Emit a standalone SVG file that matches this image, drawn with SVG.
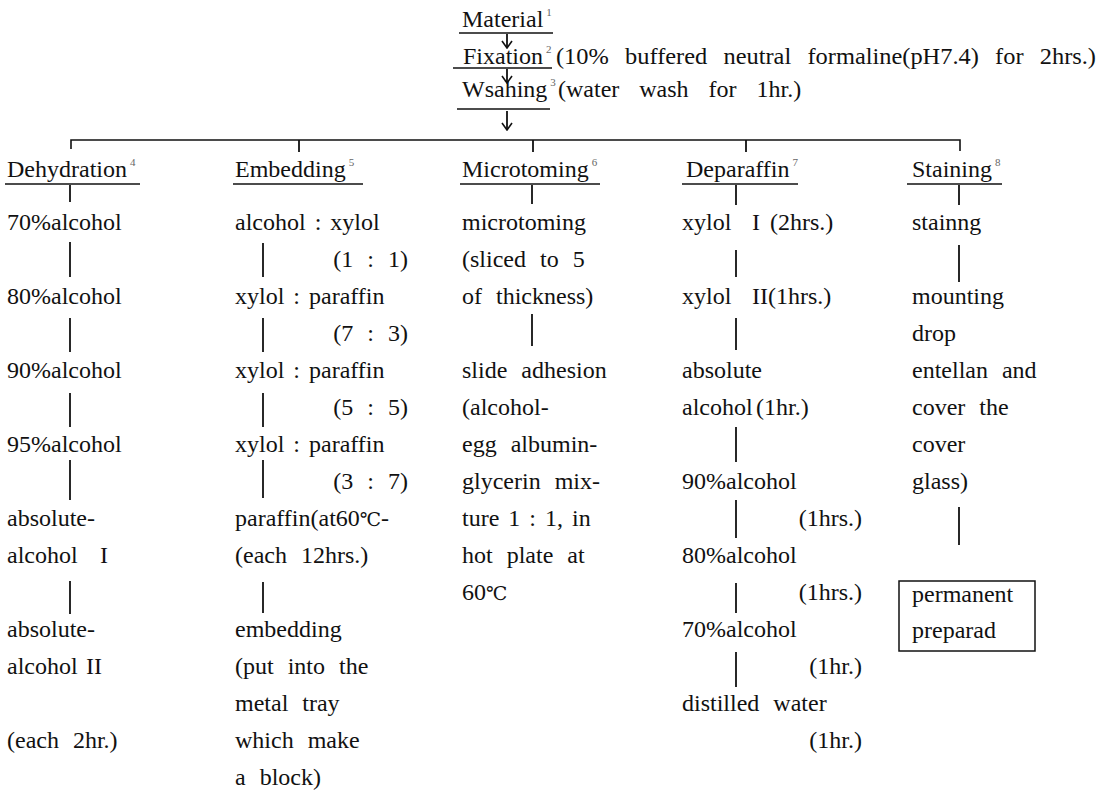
<svg xmlns="http://www.w3.org/2000/svg" width="1104" height="790" viewBox="0 0 1104 790">
<defs>
<style>
.t{font-family:'Liberation Serif',serif;font-size:24px;fill:#111;word-spacing:8px}
.c{word-spacing:3px}
.e{text-anchor:end}
.s{font-size:11px;fill:#666}
.dg{font-family:'DejaVu Serif',serif;font-size:19px}
.ln{stroke:#111;stroke-width:1.8;fill:none}
.ul{stroke:#111;stroke-width:1.5;fill:none}
.hz{stroke:#111;stroke-width:1.6;fill:none}
.box{stroke:#111;stroke-width:1.5;fill:none}
</style>
<marker id="chev" viewBox="0 0 9 12" refX="8" refY="6" markerWidth="9" markerHeight="12" markerUnits="userSpaceOnUse" orient="auto">
<path d="M1,1 L8,6 L1,11" fill="none" stroke="#111" stroke-width="1.6"/>
</marker>
</defs>
<rect width="1104" height="790" fill="#fff"/>

<g id="material">
<text class="t" x="462" y="27">Material<tspan class="s" dx="3" dy="-11">1</tspan></text>
<line class="ul" x1="459" y1="33" x2="553" y2="33"/>
</g>
<g id="fixation">
<text class="t" x="463" y="64">Fixation<tspan class="s" dx="3" dy="-11">2</tspan></text>
<text class="t" x="556" y="64" textLength="540" lengthAdjust="spacingAndGlyphs" style="word-spacing:10px">(10% buffered neutral formaline(pH7.4) for 2hrs.)</text>
<line class="ul" x1="453" y1="68" x2="552" y2="68"/>
</g>
<g id="washing">
<text class="t" x="462" y="97">Wsahing<tspan class="s" dx="3" dy="-11">3</tspan></text>
<text class="t" x="558" y="97" style="word-spacing:14px">(water wash for 1hr.)</text>
<line class="ul" x1="457" y1="109" x2="550" y2="109"/>
</g>

<g id="dehydration">
<text class="t" x="7" y="177">Dehydration<tspan class="s" dx="3" dy="-11">4</tspan></text>
<line class="ul" x1="5" y1="184" x2="140" y2="184"/>
<text class="t" x="7" y="230">70%alcohol</text>
<text class="t" x="7" y="304">80%alcohol</text>
<text class="t" x="7" y="378">90%alcohol</text>
<text class="t" x="7" y="452">95%alcohol</text>
<text class="t" x="7" y="526">absolute-</text>
<text class="t" x="7" y="563">alcohol<tspan x="100">I</tspan></text>
<text class="t" x="7" y="637">absolute-</text>
<text class="t" x="7" y="674">alcohol<tspan x="86">II</tspan></text>
<text class="t" x="7" y="748">(each 2hr.)</text>
</g>

<g id="embedding">
<text class="t" x="235" y="177">Embedding<tspan class="s" dx="3" dy="-11">5</tspan></text>
<line class="ul" x1="233" y1="184" x2="363" y2="184"/>
<text class="t c" x="235" y="230">alcohol : xylol</text>
<text class="t e" x="408" y="267">(1 : 1)</text>
<text class="t c" x="235" y="304">xylol : paraffin</text>
<text class="t e" x="408" y="341">(7 : 3)</text>
<text class="t c" x="235" y="378">xylol : paraffin</text>
<text class="t e" x="408" y="415">(5 : 5)</text>
<text class="t c" x="235" y="452">xylol : paraffin</text>
<text class="t e" x="408" y="489">(3 : 7)</text>
<text class="t" x="235" y="526">paraffin(at60<tspan class="dg">℃</tspan>-</text>
<text class="t" x="235" y="563">(each 12hrs.)</text>
<text class="t" x="235" y="637">embedding</text>
<text class="t" x="235" y="674">(put into the</text>
<text class="t" x="235" y="711">metal tray</text>
<text class="t" x="235" y="748">which make</text>
<text class="t" x="235" y="785">a block)</text>
</g>

<g id="microtoming">
<text class="t" x="462" y="177">Microtoming<tspan class="s" dx="3" dy="-11">6</tspan></text>
<line class="ul" x1="460" y1="184" x2="600" y2="184"/>
<text class="t" x="462" y="230">microtoming</text>
<text class="t" x="462" y="267">(sliced to 5</text>
<text class="t" x="462" y="304">of thickness)</text>
<text class="t" x="462" y="378">slide adhesion</text>
<text class="t" x="462" y="415">(alcohol-</text>
<text class="t" x="462" y="452">egg albumin-</text>
<text class="t" x="462" y="489">glycerin mix-</text>
<text class="t c" x="462" y="526">ture 1 : 1, in</text>
<text class="t" x="462" y="563">hot plate at</text>
<text class="t" x="462" y="600">60<tspan class="dg">℃</tspan></text>
</g>

<g id="deparaffin">
<text class="t" x="686" y="177">Deparaffin<tspan class="s" dx="3" dy="-11">7</tspan></text>
<line class="ul" x1="682" y1="184" x2="798" y2="184"/>
<text class="t" x="682" y="230">xylol<tspan x="752">I</tspan><tspan x="770">(2hrs.)</tspan></text>
<text class="t" x="682" y="304">xylol<tspan x="752">II</tspan><tspan x="768">(1hrs.)</tspan></text>
<text class="t" x="682" y="378">absolute</text>
<text class="t" x="682" y="415">alcohol<tspan x="756">(1hr.)</tspan></text>
<text class="t" x="682" y="489">90%alcohol</text>
<text class="t e" x="862" y="526">(1hrs.)</text>
<text class="t" x="682" y="563">80%alcohol</text>
<text class="t e" x="862" y="600">(1hrs.)</text>
<text class="t" x="682" y="637">70%alcohol</text>
<text class="t e" x="862" y="674">(1hr.)</text>
<text class="t" x="682" y="711">distilled water</text>
<text class="t e" x="862" y="748">(1hr.)</text>
</g>

<g id="staining">
<text class="t" x="912" y="177">Staining<tspan class="s" dx="3" dy="-11">8</tspan></text>
<line class="ul" x1="907" y1="184" x2="1002" y2="184"/>
<text class="t" x="912" y="230">stainng</text>
<text class="t" x="912" y="304">mounting</text>
<text class="t" x="912" y="341">drop</text>
<text class="t" x="912" y="378">entellan and</text>
<text class="t" x="912" y="415">cover the</text>
<text class="t" x="912" y="452">cover</text>
<text class="t" x="912" y="489">glass)</text>
</g>

<g id="permanent-preparad">
<rect class="box" x="899" y="581" width="136" height="70"/>
<text class="t" x="912" y="602">permanent</text>
<text class="t" x="912" y="638">preparad</text>
</g>

<g id="connectors">
<line class="ln" x1="507" y1="34" x2="507" y2="48" marker-end="url(#chev)"/>
<line class="ln" x1="507" y1="69" x2="507" y2="83" marker-end="url(#chev)"/>
<line class="ln" x1="507" y1="111" x2="507" y2="130" marker-end="url(#chev)"/>
<path class="hz" d="M71,149 V140 H960 V151"/>
<line class="ln" x1="299" y1="140" x2="299" y2="152"/>
<line class="ln" x1="533" y1="140" x2="533" y2="152"/>
<line class="ln" x1="746" y1="140" x2="746" y2="152"/>

<line class="ln" x1="70" y1="185" x2="70" y2="202"/>
<line class="ln" x1="70" y1="242" x2="70" y2="277"/>
<line class="ln" x1="70" y1="318" x2="70" y2="352"/>
<line class="ln" x1="70" y1="393" x2="70" y2="427"/>
<line class="ln" x1="70" y1="460" x2="70" y2="500"/>
<line class="ln" x1="70" y1="581" x2="70" y2="614"/>

<line class="ln" x1="263" y1="243" x2="263" y2="277"/>
<line class="ln" x1="263" y1="318" x2="263" y2="352"/>
<line class="ln" x1="263" y1="393" x2="263" y2="427"/>
<line class="ln" x1="263" y1="460" x2="263" y2="498"/>
<line class="ln" x1="263" y1="582" x2="263" y2="613"/>

<line class="ln" x1="532" y1="185" x2="532" y2="204"/>
<line class="ln" x1="532" y1="314" x2="532" y2="346"/>

<line class="ln" x1="736" y1="185" x2="736" y2="205"/>
<line class="ln" x1="736" y1="250" x2="736" y2="277"/>
<line class="ln" x1="736" y1="318" x2="736" y2="350"/>
<line class="ln" x1="736" y1="427" x2="736" y2="462"/>
<line class="ln" x1="736" y1="500" x2="736" y2="538"/>
<line class="ln" x1="736" y1="583" x2="736" y2="613"/>
<line class="ln" x1="736" y1="652" x2="736" y2="687"/>

<line class="ln" x1="959" y1="185" x2="959" y2="205"/>
<line class="ln" x1="959" y1="245" x2="959" y2="282"/>
<line class="ln" x1="959" y1="507" x2="959" y2="545"/>
</g>
</svg>
